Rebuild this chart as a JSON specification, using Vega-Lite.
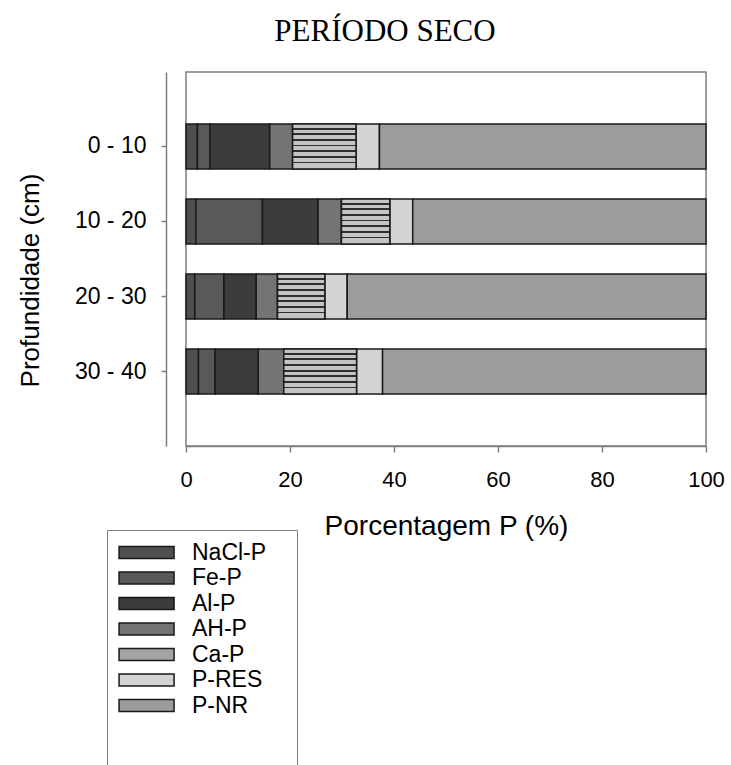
{
  "$schema": "https://vega.github.io/schema/vega-lite/v6.json",
  "autosize": {"type": "none"},
  "padding": {"left": 186, "top": 72, "right": 25, "bottom": 319},
  "width": 520,
  "height": 374,
  "background": "white",
  "title": {
    "text": "PERÍODO SECO",
    "font": "Liberation Serif",
    "fontSize": 31,
    "fontWeight": "normal",
    "color": "black",
    "anchor": "middle",
    "frame": "group",
    "baseline": "alphabetic",
    "offset": 31,
    "dx": -61,
    "dy": 31
  },
  "config": {
    "font": "Liberation Sans",
    "view": {"stroke": "#7f7f7f", "strokeWidth": 1.5}
  },
  "data": {
    "values": [
      {"depth": "0 - 10", "fraction": "NaCl-P", "ord": 1, "pct": 2.2},
      {"depth": "0 - 10", "fraction": "Fe-P", "ord": 2, "pct": 2.4},
      {"depth": "0 - 10", "fraction": "Al-P", "ord": 3, "pct": 11.5},
      {"depth": "0 - 10", "fraction": "AH-P", "ord": 4, "pct": 4.4},
      {"depth": "0 - 10", "fraction": "Ca-P", "ord": 5, "pct": 12.2},
      {"depth": "0 - 10", "fraction": "P-RES", "ord": 6, "pct": 4.5},
      {"depth": "0 - 10", "fraction": "P-NR", "ord": 7, "pct": 62.8},
      {"depth": "10 - 20", "fraction": "NaCl-P", "ord": 1, "pct": 1.9},
      {"depth": "10 - 20", "fraction": "Fe-P", "ord": 2, "pct": 12.8},
      {"depth": "10 - 20", "fraction": "Al-P", "ord": 3, "pct": 10.7},
      {"depth": "10 - 20", "fraction": "AH-P", "ord": 4, "pct": 4.5},
      {"depth": "10 - 20", "fraction": "Ca-P", "ord": 5, "pct": 9.3},
      {"depth": "10 - 20", "fraction": "P-RES", "ord": 6, "pct": 4.4},
      {"depth": "10 - 20", "fraction": "P-NR", "ord": 7, "pct": 56.4},
      {"depth": "20 - 30", "fraction": "NaCl-P", "ord": 1, "pct": 1.7},
      {"depth": "20 - 30", "fraction": "Fe-P", "ord": 2, "pct": 5.6},
      {"depth": "20 - 30", "fraction": "Al-P", "ord": 3, "pct": 6.2},
      {"depth": "20 - 30", "fraction": "AH-P", "ord": 4, "pct": 4.1},
      {"depth": "20 - 30", "fraction": "Ca-P", "ord": 5, "pct": 9.1},
      {"depth": "20 - 30", "fraction": "P-RES", "ord": 6, "pct": 4.3},
      {"depth": "20 - 30", "fraction": "P-NR", "ord": 7, "pct": 69.0},
      {"depth": "30 - 40", "fraction": "NaCl-P", "ord": 1, "pct": 2.4},
      {"depth": "30 - 40", "fraction": "Fe-P", "ord": 2, "pct": 3.2},
      {"depth": "30 - 40", "fraction": "Al-P", "ord": 3, "pct": 8.3},
      {"depth": "30 - 40", "fraction": "AH-P", "ord": 4, "pct": 4.9},
      {"depth": "30 - 40", "fraction": "Ca-P", "ord": 5, "pct": 14.0},
      {"depth": "30 - 40", "fraction": "P-RES", "ord": 6, "pct": 5.0},
      {"depth": "30 - 40", "fraction": "P-NR", "ord": 7, "pct": 62.2}
    ]
  },
  "transform": [
    {"stack": "pct", "groupby": ["depth"], "sort": [{"field": "ord", "order": "ascending"}], "as": ["x0", "x1"]}
  ],
  "encoding": {
    "y": {
      "field": "depth",
      "type": "nominal",
      "sort": ["0 - 10", "10 - 20", "20 - 30", "30 - 40"],
      "scale": {"paddingInner": 0.4, "paddingOuter": 0.693},
      "axis": {
        "title": "Profundidade (cm)",
        "titleFontSize": 26,
        "titleFontWeight": "normal",
        "titleColor": "black",
        "titleX": -136,
        "titleY": 208,
        "titleAngle": 270,
        "titleBaseline": "middle",
        "titleAlign": "center",
        "offset": 20,
        "domainColor": "#7f7f7f",
        "domainWidth": 1.5,
        "tickColor": "#7f7f7f",
        "tickWidth": 1.5,
        "tickSize": 5,
        "labelFontSize": 23,
        "labelColor": "black",
        "labelPadding": 15
      }
    },
    "x": {
      "field": "x0",
      "type": "quantitative",
      "scale": {"domain": [0, 100], "nice": false},
      "axis": {
        "title": "Porcentagem P (%)",
        "titleFontSize": 28,
        "titleFontWeight": "normal",
        "titleColor": "black",
        "titlePadding": 22,
        "values": [0, 20, 40, 60, 80, 100],
        "grid": false,
        "labelFlush": false,
        "domainColor": "#7f7f7f",
        "domainWidth": 1.5,
        "tickColor": "#7f7f7f",
        "tickWidth": 1.5,
        "tickSize": 6,
        "labelFontSize": 22,
        "labelColor": "black",
        "labelPadding": 17
      }
    },
    "x2": {"field": "x1"}
  },
  "layer": [
    {
      "mark": {"type": "bar", "stroke": "#1a1a1a", "strokeWidth": 1.5},
      "encoding": {
        "fill": {
          "field": "fraction",
          "type": "nominal",
          "scale": {
            "domain": ["NaCl-P", "Fe-P", "Al-P", "AH-P", "Ca-P", "P-RES", "P-NR"],
            "range": ["#4f4f4f", "#595959", "#3c3c3c", "#747474", "#a3a3a3", "#d4d4d4", "#9c9c9c"]
          },
          "legend": {
            "orient": "none",
            "legendX": -79,
            "legendY": 458,
            "title": "\u00a0",
            "titleOrient": "right",
            "titleFontSize": 270,
            "titlePadding": 20,
            "titleLimit": 400,
            "padding": 11,
            "strokeColor": "#7f7f7f",
            "fillColor": "white",
            "symbolType": "M-1.9,-1.1H8.1V1.1H-1.9Z",
            "symbolSize": 121,
            "symbolStrokeColor": "#1a1a1a",
            "symbolStrokeWidth": 1.5,
            "symbolOpacity": 1,
            "labelFontSize": 23,
            "labelColor": "black",
            "labelOffset": 51,
            "rowPadding": 1.5
          }
        }
      }
    },
    {
      "transform": [{"filter": "datum.fraction === 'Ca-P'"}],
      "mark": {
        "type": "bar",
        "stroke": "#1a1a1a",
        "strokeWidth": 1.5,
        "fill": {
          "gradient": "linear",
          "x1": 0, "y1": 0, "x2": 0, "y2": 1,
          "stops": [
            {"offset": 0.0, "color": "#c4c4c4"}, {"offset": 0.085, "color": "#c4c4c4"}, {"offset": 0.085, "color": "#2e2e2e"}, {"offset": 0.125, "color": "#2e2e2e"},
            {"offset": 0.125, "color": "#c4c4c4"}, {"offset": 0.21, "color": "#c4c4c4"}, {"offset": 0.21, "color": "#2e2e2e"}, {"offset": 0.25, "color": "#2e2e2e"},
            {"offset": 0.25, "color": "#c4c4c4"}, {"offset": 0.335, "color": "#c4c4c4"}, {"offset": 0.335, "color": "#2e2e2e"}, {"offset": 0.375, "color": "#2e2e2e"},
            {"offset": 0.375, "color": "#c4c4c4"}, {"offset": 0.46, "color": "#c4c4c4"}, {"offset": 0.46, "color": "#2e2e2e"}, {"offset": 0.5, "color": "#2e2e2e"},
            {"offset": 0.5, "color": "#c4c4c4"}, {"offset": 0.585, "color": "#c4c4c4"}, {"offset": 0.585, "color": "#2e2e2e"}, {"offset": 0.625, "color": "#2e2e2e"},
            {"offset": 0.625, "color": "#c4c4c4"}, {"offset": 0.71, "color": "#c4c4c4"}, {"offset": 0.71, "color": "#2e2e2e"}, {"offset": 0.75, "color": "#2e2e2e"},
            {"offset": 0.75, "color": "#c4c4c4"}, {"offset": 0.835, "color": "#c4c4c4"}, {"offset": 0.835, "color": "#2e2e2e"}, {"offset": 0.875, "color": "#2e2e2e"},
            {"offset": 0.875, "color": "#c4c4c4"}, {"offset": 1.0, "color": "#c4c4c4"}
          ]
        }
      }
    }
  ]
}
